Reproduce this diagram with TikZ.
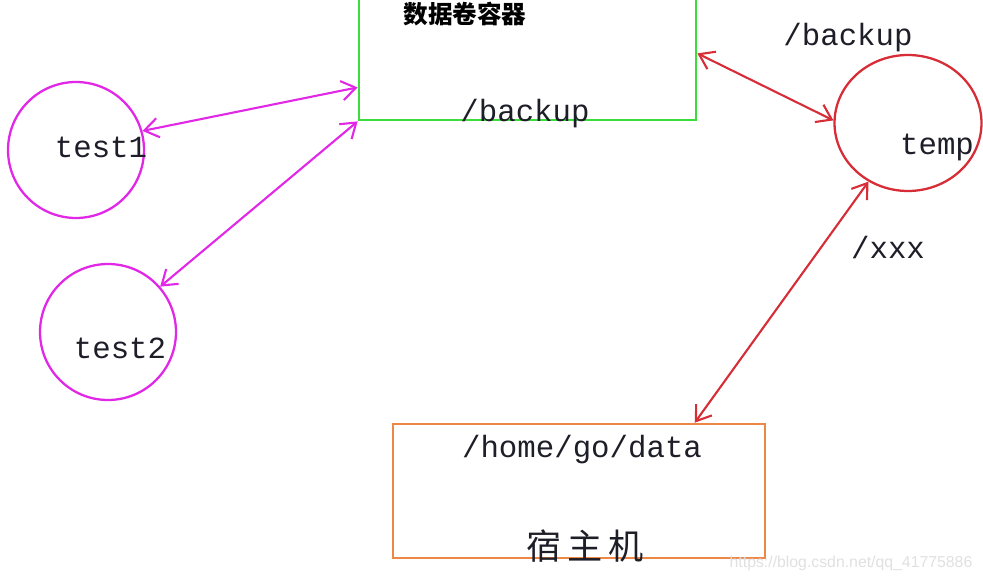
\documentclass[tikz,border=0pt]{standalone}
\usepackage{fontspec}
\usepackage{tikz}
\usetikzlibrary{positioning,arrows.meta,calc,shapes.geometric}
\newfontfamily\pathfont{Liberation Mono}
\newfontfamily\cjkfont{Noto Sans CJK SC}
\newfontfamily\markfont{Liberation Sans}
\definecolor{volgreen}{RGB}{60,220,60}
\definecolor{ctmagenta}{RGB}{225,40,230}
\definecolor{tmpred}{RGB}{215,45,55}
\definecolor{hostorange}{RGB}{237,135,70}
\definecolor{ink}{RGB}{30,30,40}

\begin{document}
\begin{tikzpicture}[x=0.02cm, y=0.02cm,
  vol/.style={draw=volgreen, line width=1.6pt, minimum width=6.74cm, minimum height=2.6cm, inner sep=0pt},
  hostbox/.style={draw=hostorange, line width=1.5pt, minimum width=7.44cm, minimum height=2.68cm, inner sep=0pt},
  ring/.style={circle, draw=ctmagenta, line width=1.3pt, minimum size=2.72cm, inner sep=0pt},
  tmpring/.style={ellipse, draw=tmpred, line width=1.3pt, minimum width=2.94cm, minimum height=2.72cm, inner sep=0pt},
  path/.style={text=ink, inner sep=0pt, font=\pathfont\fontsize{17.5}{20}\selectfont},
  cjk/.style={text=ink, inner sep=0pt, font=\cjkfont\fontsize{20}{24}\selectfont},
  arr/.style={{Straight Barb[length=8pt,width=11pt]}-{Straight Barb[length=8pt,width=11pt]}, line width=1.2pt},
]
\useasboundingbox (0,0) rectangle (983,582);
\node[vol] (vol) at (527.5,527) {};
\node[text=black, inner sep=0pt, font=\cjkfont\bfseries\fontsize{14}{16}\selectfont] (voltitle) at (465,568) {数据卷容器};
\node[path] (volpath) at (525,468) {/backup};
\node[ring] (test1) at (76,432) {};
\node[path] (t1name) at (101,435) {test1};
\node[ring] (test2) at (108,250) {};
\node[path] (t2name) at (120,234) {test2};
\node[tmpring] (temp) at (908,459) {};
\node[path] (tmpname) at (937,435) {temp};
\node[path] (tmppath) at (848,544) {/backup};
\node[path] (xxx) at (888,334) {/xxx};
\node[hostbox] (host) at (579,91) {};
\node[path] (hostpath) at (582,132) {/home/go/data};
\node[cjk] (hostname) at (585,36) {宿\,主\,机};
\node[text=black!12, inner sep=0pt, font=\markfont\fontsize{9}{11}\selectfont] (mark) at (851,19) {https://blog.csdn.net/qq\_41775886};
\draw[arr, ctmagenta] (test1.16) -- ($(vol.south west)+(0,34)$);
\draw[arr, ctmagenta] (test2.41) -- (vol.south west);
\draw[arr, tmpred] ($(vol.south east)+(0,68)$) -- (temp.178);
\draw[arr, tmpred] (temp.236) -- ($(host.north west)+(303,0)$);
\end{tikzpicture}
\end{document}
